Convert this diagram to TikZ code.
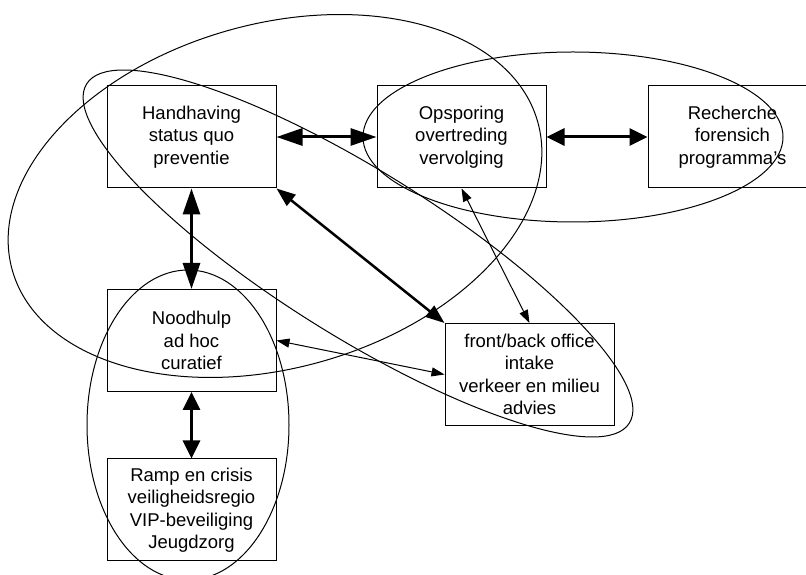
\documentclass[tikz,border=0pt]{standalone}
\usepackage{fontspec}
\setmainfont{Liberation Sans}
\usetikzlibrary{arrows.meta}
\tikzset{box/.style={rectangle,draw=black,line width=1pt,minimum width=169pt,minimum height=102pt,inner sep=0pt,align=center,font=\fontsize{18.5}{22.5}\selectfont}}
\tikzset{bigarrow/.style={<->,>={Triangle[length=26pt,width=17pt]},line width=3pt}}
\tikzset{stubarrow/.style={<->,>={Triangle[length=18pt,width=17pt]},line width=3pt}}
\tikzset{slantarrow/.style={<->,>={Triangle[length=19pt,width=14pt]},line width=2.5pt}}
\tikzset{smallarrow/.style={<->,>={Triangle[length=13pt,width=9pt]},line width=1pt}}
\tikzset{blob/.style={line width=1pt}}

\begin{document}
\begin{tikzpicture}[x=1pt,y=1pt]
\clip (0,0) rectangle (806,575);
\node (hh) [box] at (191.5,438) {Handhaving\\status quo\\preventie};
\node (op) [box] at (461.5,438) {Opsporing\\overtreding\\vervolging};
\node (re) [box] at (732.5,438) {Recherche\\forensich\\programma’s};
\node (nh) [box] at (191.5,234.5) {Noodhulp\\ad hoc\\curatief};
\node (rc) [box] at (191.5,65) {Ramp en crisis\\veiligheidsregio\\VIP-beveiliging\\Jeugdzorg};
\node (fb) [box] at (529.5,200.5) {front/back office\\intake\\verkeer en milieu\\advies};
%
{\path[bigarrow](hh) edge (op);}
{\path[stubarrow](op) edge (re);}
{\path[bigarrow](hh) edge (nh);}
{\path[stubarrow](nh) edge (rc);}
{\path[slantarrow](hh.south east) edge (fb.north west);}
{\path[smallarrow](op.south) edge (fb.north);}
{\path[smallarrow](nh.east) edge (fb.west);}
%
\draw[blob,rotate around={15.8:(275,379)}] (275,379) ellipse (273 and 172);
\draw[blob,rotate around={-32:(358,321.5)}] (358,321.5) ellipse (320 and 82.5);
\draw[blob] (573,438) ellipse (210 and 85);
\draw[blob] (188,150) ellipse (101 and 155);
\end{tikzpicture}
\end{document}
